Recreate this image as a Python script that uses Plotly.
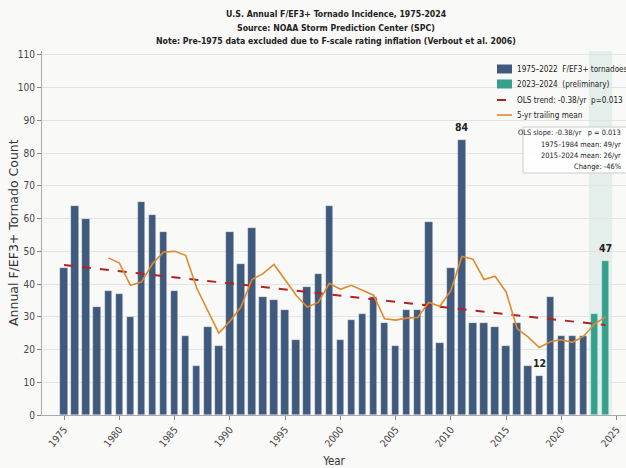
import numpy as np
import pandas as pd
import plotly.graph_objects as go

years = list(range(1975, 2025))
counts = [45, 64, 60, 33, 38, 37, 30, 65, 61, 56,
          38, 24, 15, 27, 21, 56, 46, 57, 36, 35,
          32, 23, 39, 43, 64, 23, 29, 31, 36, 28,
          21, 32, 32, 59, 22, 45, 84, 28, 28, 27,
          21, 28, 15, 12, 36, 24, 24, 24, 31, 47]
prelim_years = [2023, 2024]
labelled_years = [2011, 2018, 2024]
x_ticks = list(range(1975, 2030, 5))
y_ticks = list(range(0, 120, 10))
title_lines = ["U.S. Annual F/EF3+ Tornado Incidence, 1975-2024",
               "Source: NOAA Storm Prediction Center (SPC)",
               "Note: Pre-1975 data excluded due to F-scale rating inflation (Verbout et al. 2006)"]
legend_labels = ["1975–2022\u00a0\u00a0F/EF3+ tornadoes", "2023–2024\u00a0\u00a0(preliminary)",
                 "OLS trend: -0.38/yr\u00a0\u00a0p=0.013", "5-yr trailing mean"]
stats_lines = ["OLS slope: -0.38/yr\u00a0\u00a0\u00a0p = 0.013", "1975–1984 mean: 49/yr",
               "2015–2024 mean: 26/yr", "Change: -46%"]

df = pd.DataFrame({"year": years, "count": counts})
df["roll5"] = df["count"].rolling(5).mean()
slope, intercept = np.polyfit(df["year"], df["count"], 1)

FONT = "DejaVu Sans Condensed, DejaVu Sans, sans-serif"
DARK = "#3f5a7c"
TEAL = "#35a08c"
RED = "#b22222"
ORANGE = "#e08a2e"

L, R, T, B = 42, 626, 51, 415
def PX(px):
    return (px - L) / (R - L)
def PY(py):
    return 1 - (py - T) / (B - T)

main = df[~df["year"].isin(prelim_years)]
prel = df[df["year"].isin(prelim_years)]

fig = go.Figure()
fig.add_trace(go.Bar(x=main["year"], y=main["count"], width=0.68,
                     marker=dict(color=DARK, line=dict(color="rgba(255,255,255,0.6)", width=0.6)),
                     name=legend_labels[0]))
fig.add_trace(go.Bar(x=prel["year"], y=prel["count"], width=0.68,
                     marker=dict(color=TEAL, line=dict(color="rgba(255,255,255,0.6)", width=0.6)),
                     name=legend_labels[1]))
trend_x = [years[0], years[-1]]
trend_y = [slope * v + intercept for v in trend_x]
fig.add_trace(go.Scatter(x=trend_x, y=trend_y, mode="lines",
                         line=dict(color=RED, width=2, dash="dash"), name=legend_labels[2]))
fig.add_trace(go.Scatter(x=df["year"], y=df["roll5"], mode="lines",
                         line=dict(color=ORANGE, width=1.6), name=legend_labels[3]))

fig.add_vrect(x0=2022.5, x1=2024.6, fillcolor="rgba(53,160,140,0.10)", line_width=0, layer="below")

for yr in labelled_years:
    v = counts[years.index(yr)]
    fig.add_annotation(x=yr, y=v + 1.5, text=f"<b>{v}</b>", showarrow=False,
                       yanchor="bottom", font=dict(family=FONT, size=10.5, color="#222"))

# title lines
for line, py in zip(title_lines, [14, 28, 41]):
    fig.add_annotation(xref="paper", yref="paper", x=PX(336), y=PY(py), xanchor="center",
                       yanchor="middle", showarrow=False, text=f"<b>{line}</b>",
                       font=dict(family=FONT, size=8.7, color="#222"))

# y axis title
fig.add_annotation(xref="paper", yref="paper", x=PX(13), y=PY(233), xanchor="center",
                   yanchor="middle", showarrow=False, textangle=-90,
                   text="Annual F/EF3+ Tornado Count",
                   font=dict(family="DejaVu Sans", size=12.5, color="#333"))

# legend (custom, matplotlib style)
shapes = [dict(type="rect", xref="paper", yref="paper", x0=PX(492), x1=PX(632),
               y0=PY(125), y1=PY(60), fillcolor="rgba(255,255,255,0.85)",
               line=dict(color="#cccccc", width=1), layer="above")]
item_y = [69, 84, 100, 115]
shapes.append(dict(type="rect", xref="paper", yref="paper", x0=PX(497), x1=PX(512),
                   y0=PY(item_y[0] + 4.5), y1=PY(item_y[0] - 4.5), fillcolor=DARK, line_width=0, layer="above"))
shapes.append(dict(type="rect", xref="paper", yref="paper", x0=PX(497), x1=PX(512),
                   y0=PY(item_y[1] + 4.5), y1=PY(item_y[1] - 4.5), fillcolor=TEAL, line_width=0, layer="above"))
shapes.append(dict(type="line", xref="paper", yref="paper", x0=PX(497), x1=PX(512),
                   y0=PY(item_y[2]), y1=PY(item_y[2]), line=dict(color=RED, width=2, dash="dash"), layer="above"))
shapes.append(dict(type="line", xref="paper", yref="paper", x0=PX(497), x1=PX(512),
                   y0=PY(item_y[3]), y1=PY(item_y[3]), line=dict(color=ORANGE, width=1.6), layer="above"))
for lab, py in zip(legend_labels, item_y):
    fig.add_annotation(xref="paper", yref="paper", x=PX(515), y=PY(py), xanchor="left",
                       yanchor="middle", showarrow=False, text=lab,
                       font=dict(family=FONT, size=8.1, color="#222"))

# stats box
shapes.append(dict(type="rect", xref="paper", yref="paper", x0=PX(523), x1=PX(632),
                   y0=PY(173), y1=PY(127), fillcolor="rgba(255,255,255,0.85)",
                   line=dict(color="#cccccc", width=1), layer="above"))
for line, py in zip(stats_lines, [132.5, 144, 155.5, 166.5]):
    fig.add_annotation(xref="paper", yref="paper", x=PX(623), y=PY(py), xanchor="right",
                       yanchor="middle", showarrow=False, text=line,
                       font=dict(family=FONT, size=7.4, color="#222"))

fig.update_layout(
    width=626, height=468,
    margin=dict(l=L, r=626 - R, t=T, b=468 - B),
    paper_bgcolor="#f9f9f7", plot_bgcolor="#f9f9f7",
    barmode="overlay", bargap=0,
    font=dict(family=FONT, size=10, color="#333"),
    showlegend=False,
    shapes=shapes,
)
fig.update_xaxes(range=[1973, 2025.85], tickvals=x_ticks, tickangle=-50,
                 ticks="outside", ticklen=4, tickcolor="#888", showgrid=False,
                 showline=True, linecolor="#aaa", linewidth=1, zeroline=False,
                 tickfont=dict(family=FONT, size=10, color="#444"),
                 title=dict(text="Year", font=dict(family=FONT, size=11.5, color="#333"), standoff=10))
fig.update_yaxes(range=[0, 111.2], tickvals=y_ticks,
                 ticks="outside", ticklen=4, tickcolor="#888", showgrid=True,
                 gridcolor="#e3e3e3", gridwidth=1,
                 showline=True, linecolor="#aaa", linewidth=1, zeroline=False,
                 tickfont=dict(family=FONT, size=10, color="#444"))

fig.write_html("out.html", config={"displayModeBar": False},
               post_script="document.body.style.margin='0';document.body.style.overflow='hidden';")
